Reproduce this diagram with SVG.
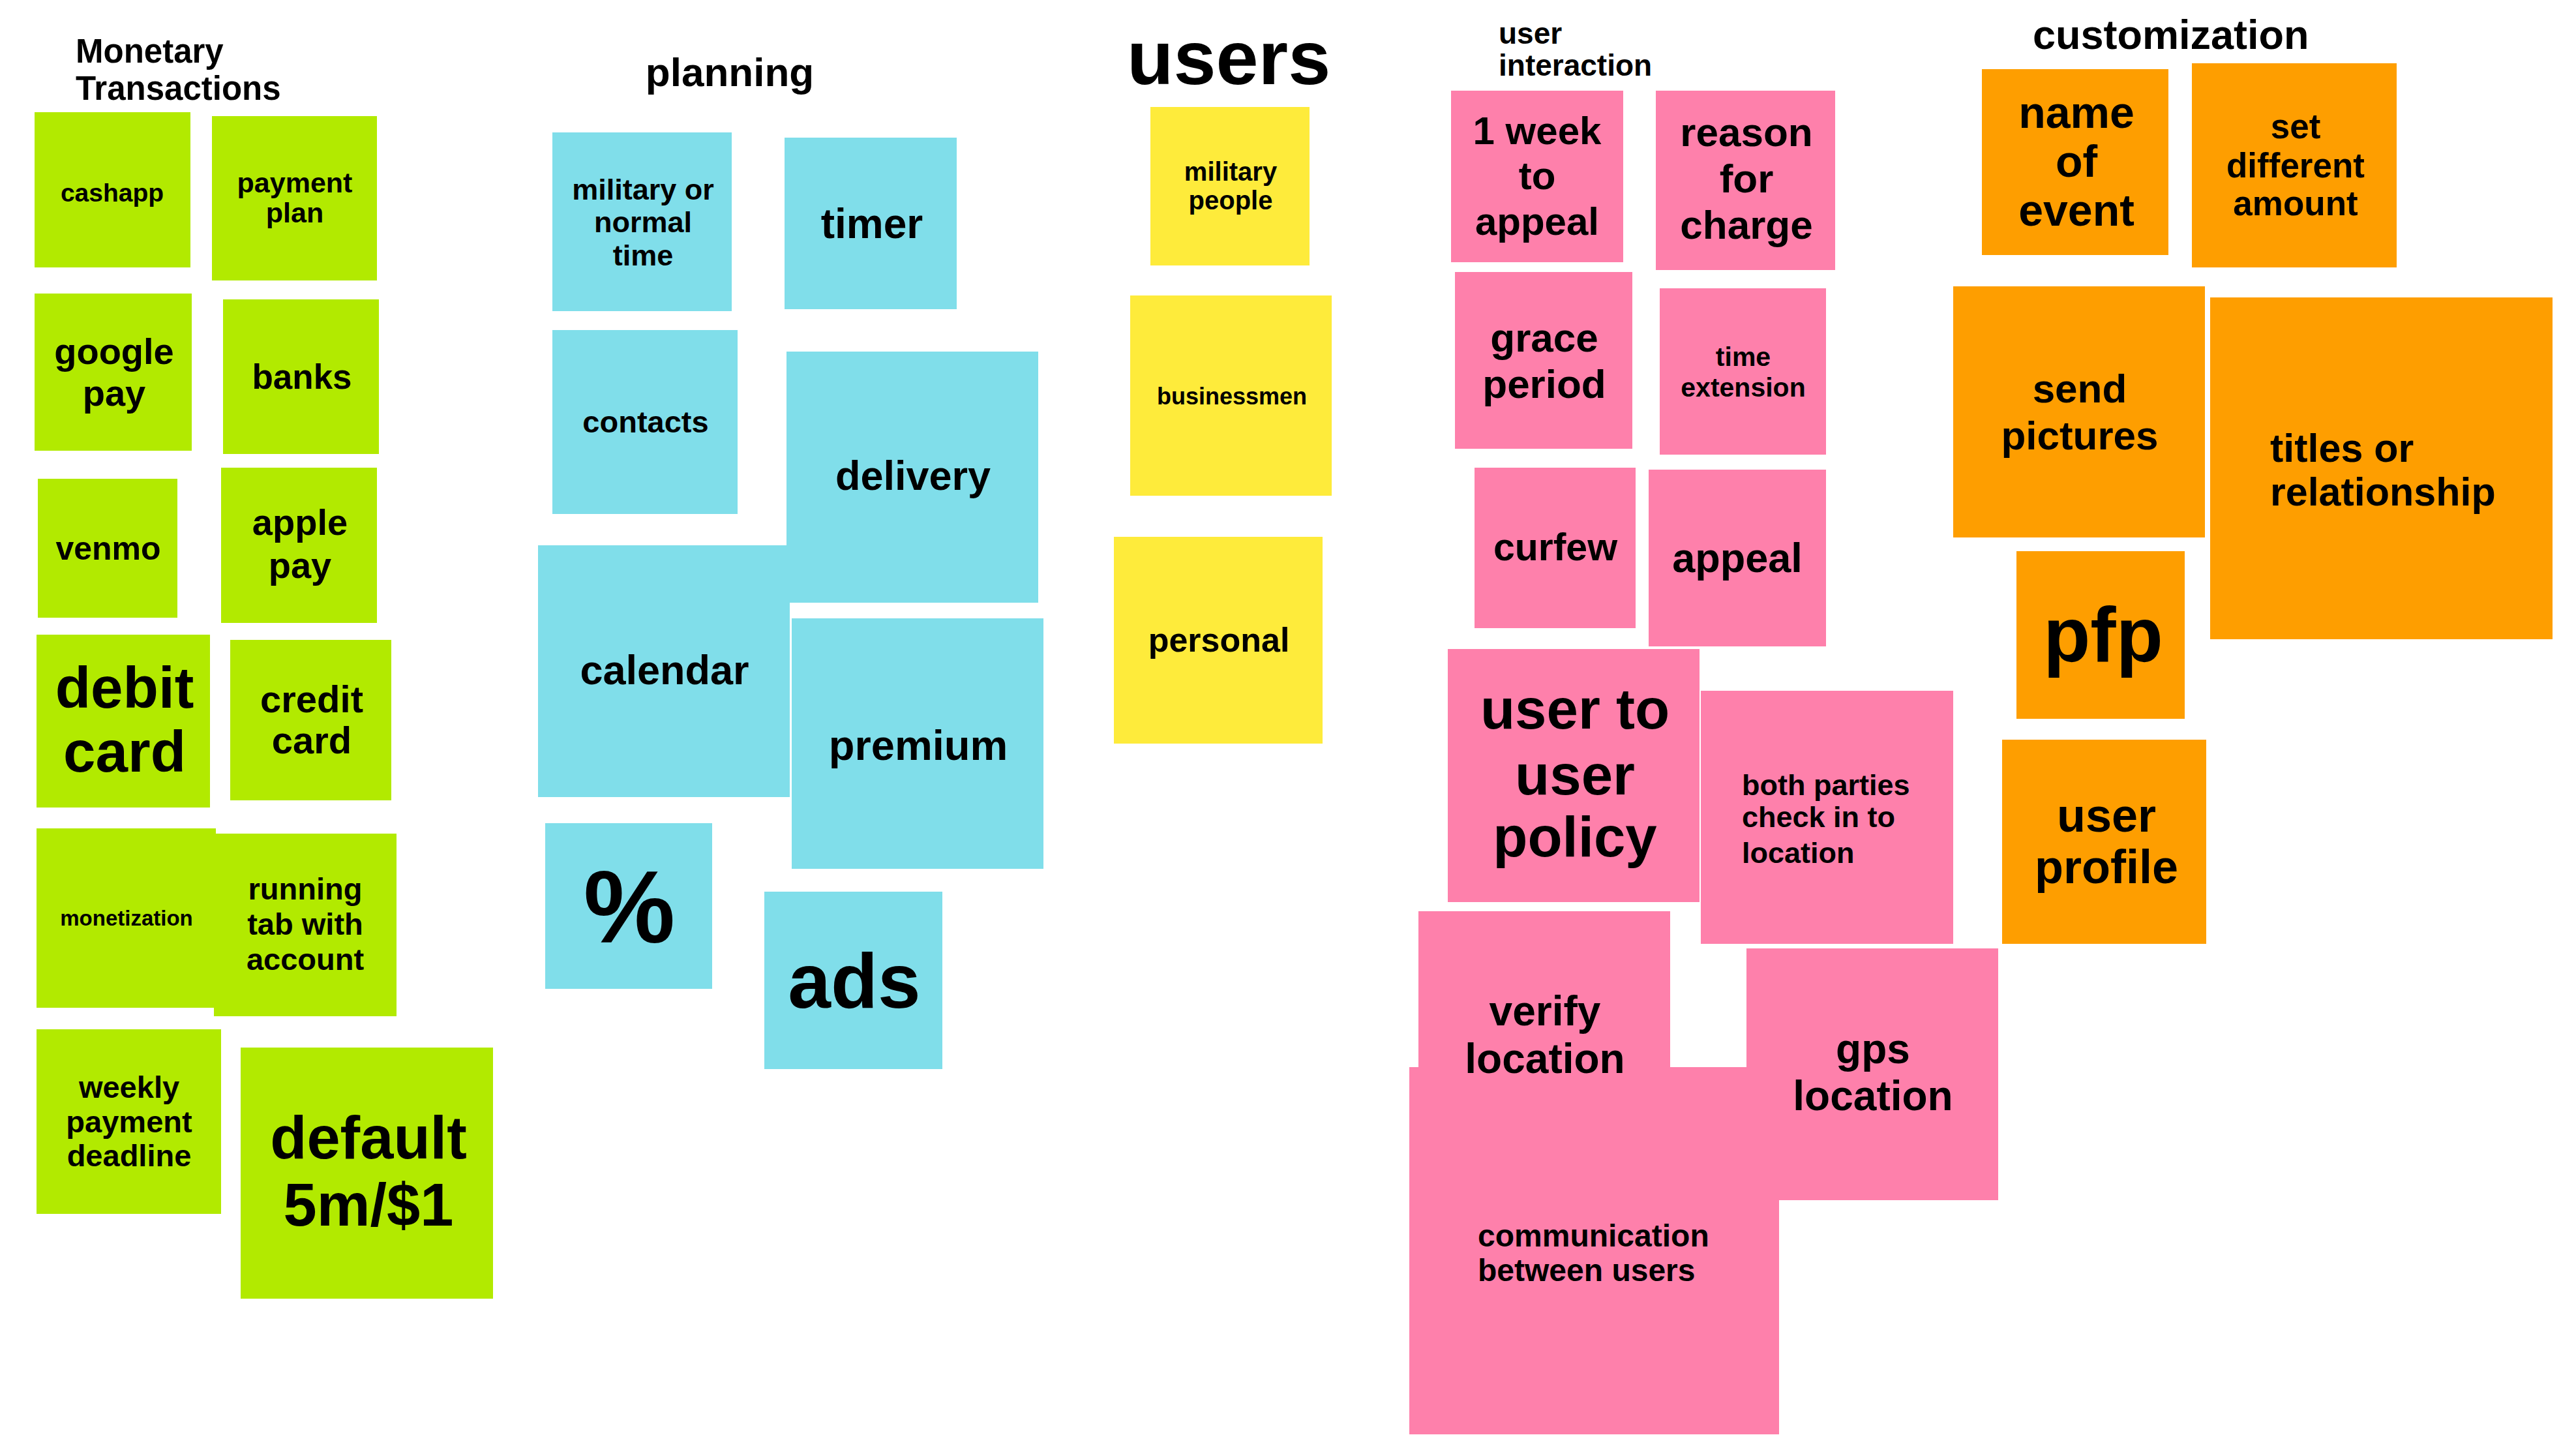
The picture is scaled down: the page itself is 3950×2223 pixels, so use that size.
<svg xmlns="http://www.w3.org/2000/svg" width="3950" height="2223" viewBox="0 0 3950 2223">
  <style>
    text { font-family: "Liberation Sans", Arial, sans-serif; font-weight: 700; fill: #000; }
    .c { text-anchor: middle; }
    .green { fill: #b2ea00; }
    .blue { fill: #80deea; }
    .yellow { fill: #feeb3b; }
    .pink { fill: #fe80ab; }
    .orange { fill: #fe9e00; }
  </style>
  <rect width="3950" height="2223" fill="#ffffff"/>

  <!-- column headings -->
  <g id="headings">
    <text x="116" y="96" font-size="51">Monetary</text>
    <text x="116" y="153" font-size="51">Transactions</text>
    <text x="1119" y="132" font-size="62" class="c">planning</text>
    <text x="1728" y="129" font-size="117">users</text>
    <text x="2298" y="67" font-size="46">user</text>
    <text x="2298" y="116" font-size="46">interaction</text>
    <text x="3117" y="75" font-size="63">customization</text>
  </g>

  <g id="connectors"/>

  <!-- Monetary Transactions -->
  <g id="cashapp">
    <rect class="green" x="53" y="172" width="239" height="238"/>
    <text class="c" x="172" y="309" font-size="39">cashapp</text>
  </g>
  <g id="payment-plan">
    <rect class="green" x="325" y="178" width="253" height="252"/>
    <text class="c" x="452" y="295" font-size="43">payment</text>
    <text class="c" x="452" y="341" font-size="43">plan</text>
  </g>
  <g id="google-pay">
    <rect class="green" x="53" y="450" width="241" height="241"/>
    <text class="c" x="175" y="558" font-size="56">google</text>
    <text class="c" x="175" y="622" font-size="56">pay</text>
  </g>
  <g id="banks">
    <rect class="green" x="342" y="459" width="239" height="237"/>
    <text class="c" x="463" y="596" font-size="53">banks</text>
  </g>
  <g id="venmo">
    <rect class="green" x="58" y="734" width="214" height="213"/>
    <text class="c" x="166" y="858" font-size="50">venmo</text>
  </g>
  <g id="apple-pay">
    <rect class="green" x="339" y="717" width="239" height="238"/>
    <text class="c" x="460" y="820" font-size="56">apple</text>
    <text class="c" x="460" y="886" font-size="56">pay</text>
  </g>
  <g id="debit-card">
    <rect class="green" x="56" y="973" width="266" height="265"/>
    <text class="c" x="191" y="1085" font-size="89">debit</text>
    <text class="c" x="191" y="1183" font-size="89">card</text>
  </g>
  <g id="credit-card">
    <rect class="green" x="353" y="981" width="247" height="246"/>
    <text class="c" x="478" y="1092" font-size="58">credit</text>
    <text class="c" x="478" y="1155" font-size="58">card</text>
  </g>
  <g id="monetization">
    <rect class="green" x="56" y="1270" width="275" height="275"/>
    <text class="c" x="194" y="1419" font-size="33">monetization</text>
  </g>
  <g id="running-tab">
    <rect class="green" x="328" y="1278" width="280" height="280"/>
    <text class="c" x="468" y="1379" font-size="47">running</text>
    <text class="c" x="468" y="1433" font-size="47">tab with</text>
    <text class="c" x="468" y="1487" font-size="47">account</text>
  </g>
  <g id="weekly-deadline">
    <rect class="green" x="56" y="1578" width="283" height="283"/>
    <text class="c" x="198" y="1683" font-size="47">weekly</text>
    <text class="c" x="198" y="1736" font-size="47">payment</text>
    <text class="c" x="198" y="1788" font-size="47">deadline</text>
  </g>
  <g id="default-rate">
    <rect class="green" x="369" y="1606" width="387" height="385"/>
    <text class="c" x="565" y="1776" font-size="92">default</text>
    <text class="c" x="565" y="1879" font-size="92">5m/$1</text>
  </g>

  <!-- planning -->
  <g id="time-format">
    <rect class="blue" x="847" y="203" width="275" height="274"/>
    <text class="c" x="986" y="306" font-size="45">military or</text>
    <text class="c" x="986" y="356" font-size="45">normal</text>
    <text class="c" x="986" y="407" font-size="45">time</text>
  </g>
  <g id="timer">
    <rect class="blue" x="1203" y="211" width="264" height="263"/>
    <text class="c" x="1337" y="365" font-size="64">timer</text>
  </g>
  <g id="contacts">
    <rect class="blue" x="847" y="506" width="284" height="282"/>
    <text class="c" x="990" y="663" font-size="47">contacts</text>
  </g>
  <g id="calendar">
    <rect class="blue" x="825" y="836" width="386" height="386"/>
    <text class="c" x="1019" y="1049" font-size="63">calendar</text>
  </g>
  <g id="delivery">
    <rect class="blue" x="1206" y="539" width="386" height="385"/>
    <text class="c" x="1400" y="751" font-size="63">delivery</text>
  </g>
  <g id="premium">
    <rect class="blue" x="1214" y="948" width="386" height="384"/>
    <text class="c" x="1408" y="1165" font-size="65">premium</text>
  </g>
  <g id="percent">
    <rect class="blue" x="836" y="1262" width="256" height="254"/>
    <text class="c" x="965" y="1445" font-size="158">%</text>
  </g>
  <g id="ads">
    <rect class="blue" x="1172" y="1367" width="273" height="272"/>
    <text class="c" x="1310" y="1545" font-size="118">ads</text>
  </g>

  <!-- users -->
  <g id="military-people">
    <rect class="yellow" x="1764" y="164" width="244" height="243"/>
    <text class="c" x="1887" y="277" font-size="40">military</text>
    <text class="c" x="1887" y="321" font-size="40">people</text>
  </g>
  <g id="businessmen">
    <rect class="yellow" x="1733" y="453" width="309" height="307"/>
    <text class="c" x="1889" y="620" font-size="36">businessmen</text>
  </g>
  <g id="personal">
    <rect class="yellow" x="1708" y="823" width="320" height="317"/>
    <text class="c" x="1869" y="999" font-size="52">personal</text>
  </g>

  <!-- user interaction -->
  <g id="week-to-appeal">
    <rect class="pink" x="2225" y="139" width="264" height="263"/>
    <text class="c" x="2357" y="221" font-size="60">1 week</text>
    <text class="c" x="2357" y="290" font-size="60">to</text>
    <text class="c" x="2357" y="360" font-size="60">appeal</text>
  </g>
  <g id="reason-for-charge">
    <rect class="pink" x="2539" y="139" width="275" height="275"/>
    <text class="c" x="2678" y="224" font-size="62">reason</text>
    <text class="c" x="2678" y="295" font-size="62">for</text>
    <text class="c" x="2678" y="366" font-size="62">charge</text>
  </g>
  <g id="grace-period">
    <rect class="pink" x="2231" y="417" width="272" height="271"/>
    <text class="c" x="2368" y="539" font-size="62">grace</text>
    <text class="c" x="2368" y="610" font-size="62">period</text>
  </g>
  <g id="time-extension">
    <rect class="pink" x="2545" y="442" width="255" height="255"/>
    <text class="c" x="2673" y="561" font-size="41">time</text>
    <text class="c" x="2673" y="608" font-size="41">extension</text>
  </g>
  <g id="curfew">
    <rect class="pink" x="2261" y="717" width="247" height="246"/>
    <text class="c" x="2385" y="859" font-size="59">curfew</text>
  </g>
  <g id="appeal">
    <rect class="pink" x="2528" y="720" width="272" height="271"/>
    <text class="c" x="2664" y="877" font-size="63">appeal</text>
  </g>
  <g id="user-policy">
    <rect class="pink" x="2220" y="995" width="386" height="388"/>
    <text class="c" x="2415" y="1117" font-size="87">user to</text>
    <text class="c" x="2415" y="1218" font-size="87">user</text>
    <text class="c" x="2415" y="1313" font-size="87">policy</text>
  </g>
  <g id="check-in">
    <rect class="pink" x="2608" y="1059" width="387" height="388"/>
    <text x="2671" y="1219" font-size="45">both parties</text>
    <text x="2671" y="1268" font-size="45">check in to</text>
    <text x="2671" y="1323" font-size="45">location</text>
  </g>
  <g id="communication">
    <rect class="pink" x="2161" y="1636" width="567" height="563"/>
    <text x="2266" y="1911" font-size="48">communication</text>
    <text x="2266" y="1964" font-size="48">between users</text>
  </g>
  <g id="verify-location">
    <rect class="pink" x="2175" y="1397" width="386" height="300"/>
    <text class="c" x="2369" y="1572" font-size="64">verify</text>
    <text class="c" x="2369" y="1645" font-size="64">location</text>
  </g>
  <g id="gps-location">
    <rect class="pink" x="2678" y="1454" width="386" height="386"/>
    <text class="c" x="2872" y="1630" font-size="64">gps</text>
    <text class="c" x="2872" y="1702" font-size="64">location</text>
  </g>

  <!-- customization -->
  <g id="event-name">
    <rect class="orange" x="3039" y="106" width="286" height="285"/>
    <text class="c" x="3184" y="196" font-size="68">name</text>
    <text class="c" x="3184" y="271" font-size="68">of</text>
    <text class="c" x="3184" y="346" font-size="68">event</text>
  </g>
  <g id="different-amount">
    <rect class="orange" x="3361" y="97" width="314" height="313"/>
    <text class="c" x="3520" y="212" font-size="53">set</text>
    <text class="c" x="3520" y="272" font-size="53">different</text>
    <text class="c" x="3520" y="330" font-size="53">amount</text>
  </g>
  <g id="send-pictures">
    <rect class="orange" x="2995" y="439" width="386" height="385"/>
    <text class="c" x="3189" y="617" font-size="62">send</text>
    <text class="c" x="3189" y="689" font-size="62">pictures</text>
  </g>
  <g id="titles">
    <rect class="orange" x="3389" y="456" width="525" height="524"/>
    <text x="3481" y="708" font-size="61">titles or</text>
    <text x="3481" y="775" font-size="61">relationship</text>
  </g>
  <g id="pfp">
    <rect class="orange" x="3092" y="845" width="258" height="257"/>
    <text class="c" x="3225" y="1014" font-size="118">pfp</text>
  </g>
  <g id="user-profile">
    <rect class="orange" x="3070" y="1134" width="313" height="313"/>
    <text class="c" x="3230" y="1275" font-size="72">user</text>
    <text class="c" x="3230" y="1354" font-size="72">profile</text>
  </g>
</svg>
